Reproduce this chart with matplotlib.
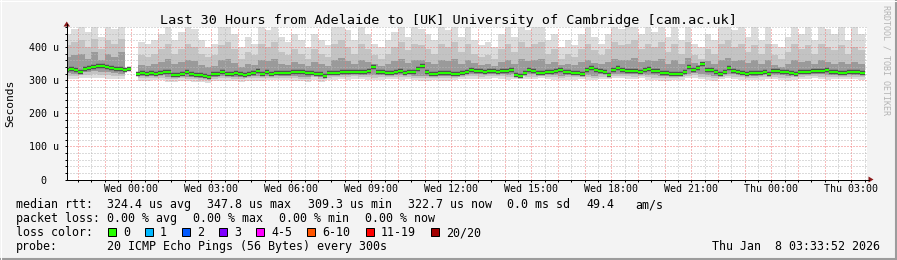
import numpy as np
import pandas as pd
import matplotlib
matplotlib.use("Agg")
import matplotlib.pyplot as plt
import matplotlib.dates as mdates
from matplotlib.ticker import MultipleLocator, FuncFormatter
from matplotlib.patches import Rectangle, Polygon
from matplotlib.lines import Line2D

nan = np.nan

# time window of the graph
t_start = pd.Timestamp("2026-01-06 21:33:52")
t_end = pd.Timestamp("2026-01-08 03:33:52")

# median rtt in microseconds, 10 minute steps from Tue 21:30
median_rtt = [332, 333, 332, 326, 335, 336, 341, 343, 344, 339,
              337, 335, 333, 331, 335, nan, 320, 321, 320, 322,
              319, 322, 325, 324, 315, 316, 318, 324, 320, 317,
              316, 312, 310, 318, 320, 324, 320, 319, 321, 318,
              317, 320, 321, 327, 320, 324, 320, 321, 322, 322,
              323, 325, 325, 324, 322, 322, 319, 318, 312, 322,
              323, 323, 324, 325, 325, 326, 325, 324, 328, 339,
              326, 325, 323, 322, 324, 329, 323, 324, 325, 333,
              342, 325, 320, 320, 321, 322, 322, 318, 318, 321,
              324, 330, 327, 327, 326, 327, 327, 326, 327, 328,
              330, 316, 312, 323, 330, 329, 323, 322, 325, 325,
              327, 331, 326, 325, 323, 321, 318, 330, 336, 330,
              327, 324, 317, 330, 337, 331, 328, 328, 327, 325,
              331, 333, 328, 327, 322, 322, 320, 318, 319, 326,
              340, 330, 336, 348, 332, 330, 326, 318, 325, 338,
              327, 325, 322, 320, 321, 323, 322, 325, 320, 328,
              327, 325, 325, 322, 319, 324, 325, 326, 327, 327,
              328, 330, 325, 324, 323, 323, 325, 325, 324, 323]

# smoke (spread of the 20 pings), 15 minute steps from Tue 21:30
smoke_max = [440, 455, 470, 445, 470, 430, 470, 455, 470, 440,
             nan, 415, 410, 420, 440, 470, 420, 445, 470, 455,
             420, 400, 410, 470, 470, 440, 400, 430, 410, 470,
             450, 470, 430, 415, 440, 420, 400, 440, 420, 405,
             470, 470, 450, 420, 470, 440, 410, 400, 420, 445,
             470, 430, 470, 455, 440, 420, 470, 450, 470, 430,
             470, 420, 405, 415, 400, 440, 470, 430, 470, 450,
             470, 470, 420, 440, 400, 420, 405, 440, 470, 430,
             410, 440, 470, 455, 470, 470, 440, 470, 445, 470,
             430, 470, 420, 470, 410, 400, 440, 420, 470, 470,
             450, 470, 430, 470, 420, 470, 410, 400, 430, 470,
             440, 470, 420, 470, 455, 440, 470, 420, 470, 440]
smoke_q90 = [405, 415, 420, 400, 425, 395, 420, 410, 425, 400,
             nan, 375, 370, 380, 395, 410, 380, 395, 410, 400,
             380, 370, 375, 405, 415, 395, 365, 385, 375, 410,
             400, 415, 385, 375, 395, 380, 365, 395, 380, 370,
             410, 420, 400, 380, 410, 395, 375, 365, 380, 400,
             415, 390, 410, 405, 395, 380, 410, 400, 415, 385,
             410, 380, 370, 375, 365, 395, 410, 385, 415, 400,
             410, 415, 380, 395, 365, 380, 370, 395, 410, 390,
             375, 395, 415, 405, 410, 420, 395, 410, 400, 415,
             385, 410, 380, 415, 375, 365, 395, 380, 410, 420,
             400, 410, 385, 405, 380, 410, 375, 365, 385, 410,
             395, 405, 380, 410, 400, 390, 405, 380, 400, 390]
smoke_q75 = [370, 375, 380, 365, 385, 360, 380, 370, 385, 365,
             nan, 345, 342, 350, 355, 365, 348, 355, 362, 358,
             345, 340, 343, 360, 365, 352, 340, 350, 345, 362,
             358, 365, 350, 345, 355, 348, 342, 355, 348, 342,
             362, 368, 358, 348, 362, 355, 350, 342, 348, 358,
             365, 352, 362, 360, 355, 348, 362, 358, 365, 350,
             362, 352, 345, 348, 342, 355, 362, 350, 365, 358,
             362, 365, 350, 355, 345, 350, 345, 355, 362, 352,
             348, 355, 365, 360, 362, 368, 355, 362, 358, 365,
             350, 362, 350, 368, 352, 345, 358, 350, 362, 368,
             358, 362, 352, 360, 348, 360, 345, 340, 350, 360,
             355, 358, 348, 360, 355, 350, 355, 348, 355, 350]
smoke_q25 = [322, 320, 324, 325, 328, 325, 324, 322, 320, 322,
             nan, 313, 312, 314, 316, 310, 309, 312, 311, 310,
             308, 306, 311, 313, 312, 311, 310, 312, 312, 313,
             314, 315, 314, 314, 312, 311, 309, 316, 310, 315,
             316, 317, 316, 320, 317, 316, 315, 316, 318, 317,
             316, 318, 314, 313, 313, 315, 312, 313, 315, 318,
             319, 319, 318, 319, 320, 319, 316, 318, 319, 318,
             318, 320, 318, 316, 314, 316, 316, 318, 316, 314,
             318, 318, 320, 320, 319, 318, 320, 316, 315, 313,
             312, 315, 316, 320, 322, 318, 316, 312, 318, 320,
             318, 316, 315, 314, 316, 318, 317, 315, 313, 316,
             318, 319, 320, 318, 316, 317, 317, 318, 317, 316]
smoke_q10 = [313, 312, 315, 316, 318, 316, 315, 313, 312, 313,
             nan, 306, 305, 307, 308, 303, 302, 305, 304, 303,
             301, 300, 304, 306, 305, 304, 303, 305, 305, 306,
             307, 308, 307, 307, 305, 304, 302, 309, 303, 308,
             309, 310, 309, 312, 310, 309, 308, 309, 311, 310,
             309, 311, 307, 306, 306, 308, 305, 306, 308, 311,
             312, 312, 311, 312, 313, 312, 309, 311, 312, 311,
             311, 313, 311, 309, 307, 309, 309, 311, 309, 307,
             311, 311, 313, 313, 312, 311, 313, 309, 308, 306,
             305, 308, 309, 313, 315, 311, 309, 305, 311, 313,
             311, 309, 308, 307, 309, 311, 310, 308, 306, 309,
             311, 312, 313, 311, 309, 310, 310, 311, 310, 309]
smoke_min = [303, 302, 305, 306, 307, 305, 304, 303, 302, 303,
             nan, 298, 296, 299, 300, 295, 294, 297, 296, 295,
             293, 292, 296, 298, 297, 296, 295, 297, 297, 298,
             299, 300, 299, 299, 297, 296, 294, 301, 295, 300,
             301, 302, 301, 304, 302, 301, 300, 301, 303, 302,
             301, 303, 299, 298, 298, 300, 297, 298, 300, 303,
             304, 304, 303, 304, 305, 304, 301, 303, 304, 303,
             303, 305, 303, 301, 299, 301, 301, 303, 301, 299,
             303, 303, 305, 305, 304, 303, 305, 301, 300, 298,
             297, 300, 301, 305, 307, 303, 301, 297, 303, 305,
             303, 301, 300, 299, 301, 303, 302, 300, 298, 301,
             303, 304, 305, 303, 301, 302, 302, 303, 302, 301]

y_ticks = [0, 100, 200, 300, 400]
y_tick_labels = ["  0", "100 u", "200 u", "300 u", "400 u"]

loss_labels = ["0", "1", "2", "3", "4-5", "6-10", "11-19", "20/20"]
loss_colors = ["#26ff00", "#00b8ff", "#0059ff", "#7e00ff",
               "#ff00ff", "#ff5500", "#ff0000", "#a10000"]

title = "Last 30 Hours from Adelaide to [UK] University of Cambridge [cam.ac.uk]"

W, H = 897, 260
plt.rcParams['font.family'] = ['DejaVu Sans Mono']


def px(x, y):
    # image pixel -> figure fraction
    return x / W, 1 - y / H


fig = plt.figure(figsize=(W / 100, H / 100), dpi=100)
fig.patch.set_facecolor("#f3f3f3")

ax = fig.add_axes([66.5 / W, 80.5 / H, 800 / W, 153 / H])
ax.set_facecolor("white")

# smoke bands
smoke_edges = pd.date_range("2026-01-06 21:30", periods=len(smoke_max) + 1, freq="15min")
def stepped(v):
    return np.append(np.array(v, dtype=float), v[-1])

ax.fill_between(smoke_edges, stepped(smoke_min), stepped(smoke_max),
                step="post", color="#dcdcdc", lw=0, zorder=1)
ax.fill_between(smoke_edges, stepped(smoke_q10), stepped(smoke_q90),
                step="post", color="#c3c3c3", lw=0, zorder=1.1)
ax.fill_between(smoke_edges, stepped(smoke_q25), stepped(smoke_q75),
                step="post", color="#9a9a9a", lw=0, zorder=1.2)

# median
med_edges = pd.date_range("2026-01-06 21:30", periods=len(median_rtt) + 1, freq="10min")
med = np.array(median_rtt, dtype=float)
ax.hlines(med, med_edges[:-1], med_edges[1:], color="#4f4f4f", lw=3.2, zorder=2.6)
ax.hlines(med, med_edges[:-1], med_edges[1:], color=loss_colors[0], lw=1.5, zorder=2.7)

ax.set_xlim(t_start, t_end)
ax.set_ylim(0, 462)

# grid
ax.xaxis.set_major_locator(mdates.HourLocator())
ax.xaxis.set_minor_locator(mdates.MinuteLocator(byminute=[30]))
def xfmt(v, pos):
    d = mdates.num2date(v)
    return d.strftime("%a %H:%M") if d.hour % 3 == 0 else ""
ax.xaxis.set_major_formatter(FuncFormatter(xfmt))
ax.yaxis.set_major_locator(MultipleLocator(100))
ax.yaxis.set_minor_locator(MultipleLocator(20))
ax.set_yticks(y_ticks)
ax.set_yticklabels(y_tick_labels)
ax.set_axisbelow(False)
ax.grid(which="major", color="#f07878", lw=0.72, ls=(0, (1, 2)), zorder=2.5)
ax.grid(which="minor", color="#b8b8b8", lw=0.72, ls=(0, (1, 2)), zorder=2.4)

ax.tick_params(which="both", direction="out", length=1.6, width=0.72, color="black")
ax.tick_params(axis="x", labelsize=7.2, pad=1.5)
ax.tick_params(axis="y", labelsize=7.2, pad=25.5)
for lab in ax.get_yticklabels():
    lab.set_horizontalalignment("left")

for s in ["top", "right"]:
    ax.spines[s].set_visible(False)
for s in ["left", "bottom"]:
    ax.spines[s].set_linewidth(0.72)
    ax.spines[s].set_color("black")

# axis extensions and arrows
fig.add_artist(Line2D([px(66.5, 0)[0]] * 2, [px(0, 179)[1], px(0, 24)[1]], color="black", lw=0.72))
fig.add_artist(Line2D([px(66.5, 0)[0], px(869, 0)[0]], [px(0, 179.5)[1]] * 2, color="black", lw=0.72))
fig.add_artist(Polygon([px(63.5, 26.5), px(70, 26.5), px(66.75, 21.5)], closed=True,
                       color="#8b1a1a", lw=0))
fig.add_artist(Polygon([px(868.5, 176.5), px(868.5, 182.5), px(873.5, 179.5)], closed=True,
                       color="#8b1a1a", lw=0))

# texts
fig.text(*px(448, 24), title, ha="center", va="baseline", fontsize=9.7)
fig.text(*px(10, 103), "Seconds", rotation=90, ha="center", va="center", fontsize=8.1)
fig.text(*px(886, 60), "RRDTOOL / TOBI OETIKER", rotation=270, ha="center", va="center",
         fontsize=6, color="#b4b4b4")

fs = 8.4
rows = [
    (208, [(16, "median rtt:"), (107, "324.4 us avg"), (207, "347.8 us max"),
           (308, "309.3 us min"), (408, "322.7 us now"), (507, "0.0 ms sd"),
           (586, "49.4"), (635, "am/s")]),
    (222, [(16, "packet loss:"), (107, "0.00 % avg"), (193, "0.00 % max"),
           (279, "0.00 % min"), (365, "0.00 % now")]),
    (250, [(16, "probe:"), (107, "20 ICMP Echo Pings (56 Bytes) every 300s")]),
]
for yb, items in rows:
    for x, s in items:
        fig.text(*px(x, yb), s, ha="left", va="baseline", fontsize=fs)

fig.text(*px(16, 236), "loss color:", ha="left", va="baseline", fontsize=fs)
box_x = [108, 145, 182, 219, 256, 307, 366, 431]
for bx, lab, col in zip(box_x, loss_labels, loss_colors):
    x0, y0 = px(bx, 236)
    fig.add_artist(Rectangle((x0, y0), 8 / W, 8 / H, facecolor=col,
                             edgecolor="black", lw=0.72))
    fig.text(*px(bx + 15, 236), lab, ha="left", va="baseline", fontsize=fs)

fig.text(*px(880, 250), "Thu Jan  8 03:33:52 2026", ha="right", va="baseline", fontsize=fs)

# 3d frame
fig.add_artist(Line2D([0, 1], [1 / H, 1 / H], color="#9c9c9c", lw=1.5))
fig.add_artist(Line2D([1 - 1 / W, 1 - 1 / W], [0, 1], color="#9c9c9c", lw=1.5))
fig.add_artist(Line2D([0, 1], [1 - 0.5 / H] * 2, color="white", lw=0.8))
fig.add_artist(Line2D([0.5 / W] * 2, [0, 1], color="white", lw=0.8))

fig.savefig("out.png", dpi=100, facecolor=fig.get_facecolor())
